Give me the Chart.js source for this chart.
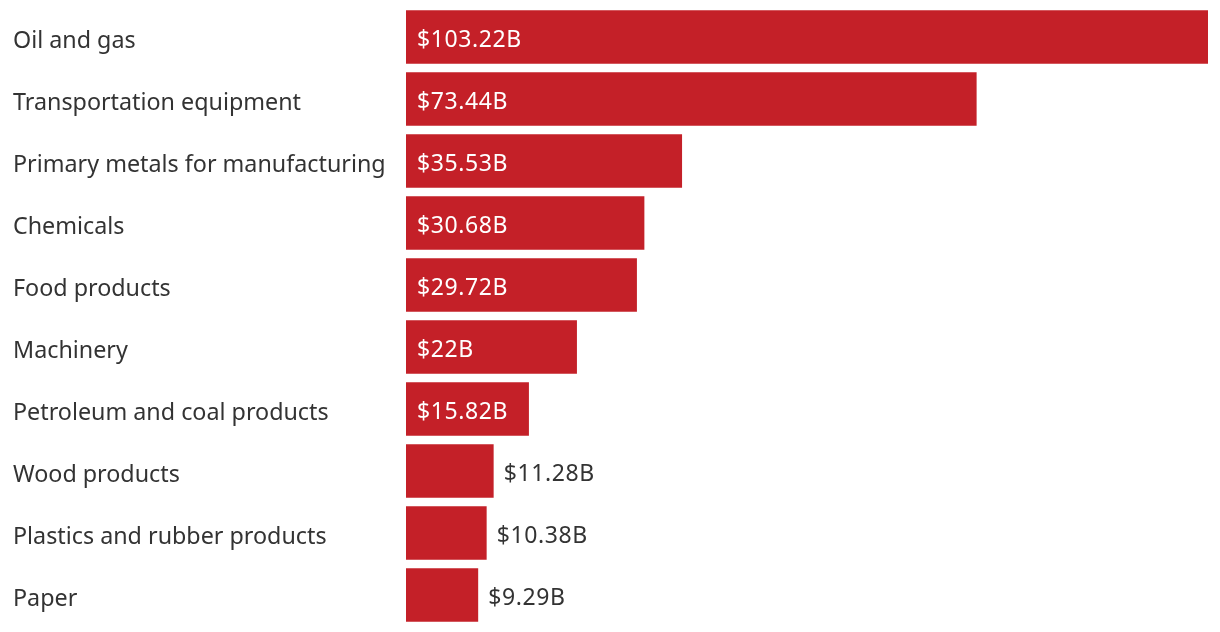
<!DOCTYPE html>
<html>
<head>
<meta charset="utf-8">
<script src="https://cdn.jsdelivr.net/npm/chart.js@4"></script>
<style>
html,body{margin:0;padding:0;background:#fff;}
#wrap{width:1220px;height:632px;}
</style>
</head>
<body>
<div id="wrap"><canvas id="c"></canvas></div>
<script>
const categories = ["Oil and gas","Transportation equipment","Primary metals for manufacturing","Chemicals","Food products","Machinery","Petroleum and coal products","Wood products","Plastics and rubber products","Paper"];
const values = [103.22,73.44,35.53,30.68,29.72,22,15.82,11.28,10.38,9.29];
const valueLabels = ["$103.22B","$73.44B","$35.53B","$30.68B","$29.72B","$22B","$15.82B","$11.28B","$10.38B","$9.29B"];

const FONT = "'Noto Sans', sans-serif";
const labelPlugin = {
  id: 'valLabels',
  afterDatasetsDraw(chart) {
    const ctx = chart.ctx;
    const meta = chart.getDatasetMeta(0);
    ctx.save();
    ctx.font = "23px " + FONT;
    try { ctx.letterSpacing = '0.6px'; } catch (e) {}
    ctx.textBaseline = 'middle';
    ctx.textAlign = 'left';
    meta.data.forEach((bar, i) => {
      const w = bar.x - bar.base;
      const txt = valueLabels[i];
      const tw = ctx.measureText(txt).width;
      if (tw + 20 < w) {
        ctx.fillStyle = '#ffffff';
        ctx.fillText(txt, bar.base + 11, bar.y + 3);
      } else {
        ctx.fillStyle = '#333333';
        ctx.fillText(txt, bar.x + 10, bar.y + 3);
      }
    });
    ctx.restore();
  }
};

new Chart(document.getElementById('c'), {
  type: 'bar',
  data: {
    labels: categories,
    datasets: [{
      data: values,
      backgroundColor: '#c42028',
      barPercentage: 0.86,
      categoryPercentage: 1.0
    }]
  },
  options: {
    indexAxis: 'y',
    responsive: true,
    maintainAspectRatio: false,
    animation: false,
    layout: { padding: { left: 13, right: 12, top: 6, bottom: 6 } },
    plugins: { legend: { display: false }, tooltip: { enabled: false } },
    scales: {
      x: { display: false, min: 0, max: 103.22 },
      y: {
        grid: { display: false },
        border: { display: false },
        ticks: { color: '#333333', font: { family: FONT, size: 23.3 }, crossAlign: 'far', padding: 0, labelOffset: 4.5 },
        afterFit(scale) { scale.width = 393; scale.paddingTop = 0; scale.paddingBottom = 0; }
      }
    }
  },
  plugins: [labelPlugin]
});
</script>
</body>
</html>
